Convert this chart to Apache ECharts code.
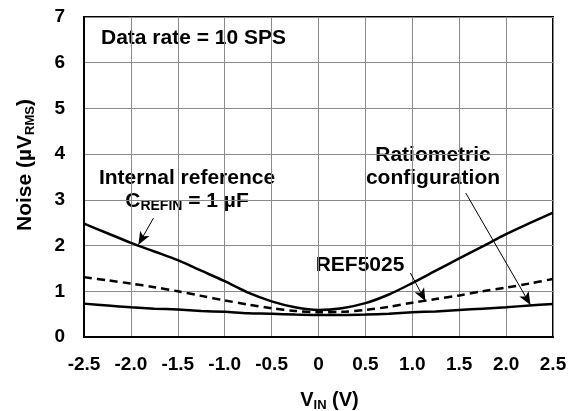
<!DOCTYPE html>
<html>
<head>
<meta charset="utf-8">
<script src="https://cdn.jsdelivr.net/npm/echarts@6/dist/echarts.min.js"></script>
<style>
html, body { margin: 0; padding: 0; background: #fff; }
#main { width: 570px; height: 411px; }
</style>
</head>
<body>
<div id="main"></div>
<script>
// 横轴 VIN (V)
var vin = [-2.5, -2.25, -2.0, -1.75, -1.5, -1.25, -1.0, -0.75, -0.5, -0.25, 0, 0.25, 0.5, 0.75, 1.0, 1.25, 1.5, 1.75, 2.0, 2.25, 2.5];
// 噪声 µVRMS
var internalRef = [2.48, 2.27, 2.06, 1.87, 1.68, 1.45, 1.22, 0.97, 0.78, 0.65, 0.59, 0.63, 0.74, 0.93, 1.18, 1.45, 1.72, 1.98, 2.25, 2.49, 2.72];
var ref5025 = [1.31, 1.24, 1.17, 1.09, 1.00, 0.90, 0.80, 0.71, 0.63, 0.57, 0.54, 0.55, 0.59, 0.66, 0.75, 0.83, 0.91, 1.00, 1.08, 1.17, 1.27];
var ratiometric = [0.73, 0.69, 0.65, 0.62, 0.60, 0.57, 0.55, 0.52, 0.51, 0.49, 0.48, 0.48, 0.49, 0.51, 0.54, 0.56, 0.59, 0.62, 0.65, 0.69, 0.72];

var xTicks = ['-2.5', '-2.0', '-1.5', '-1.0', '-0.5', '0', '0.5', '1.0', '1.5', '2.0', '2.5'];

// 箭头（数据坐标）
var arrowInternal = [[-1.76, 2.60], [-1.92, 2.02]];
var arrowRef = [[0.98, 1.40], [1.14, 0.78]];
var arrowRatio = [[1.57, 3.15], [2.26, 0.70]];

function pairs(a, b) {
  return a.map(function (v, i) { return [v, b[i]]; });
}

var FONT = '"Liberation Sans", Arial, Helvetica, sans-serif';

var myChart = echarts.init(document.getElementById('main'));

function arrow(seg) {
  return [{ coord: seg[0], symbol: 'none' }, { coord: seg[1], symbol: 'arrow' }];
}

var option = {
  animation: false,
  grid: {
    left: 84, right: 17, top: 17, bottom: 74,
    outerBoundsMode: 'none',
    show: true, borderColor: '#000', borderWidth: 2
  },
  xAxis: {
    type: 'value',
    min: -2.5, max: 2.5, interval: 0.5,
    axisLine: { onZero: false, lineStyle: { color: '#000', width: 2 } },
    axisTick: { show: false },
    splitLine: { lineStyle: { color: '#8a8a8a', width: 1 } },
    axisLabel: {
      margin: 18, color: '#000', fontSize: 19, fontWeight: 'bold', fontFamily: FONT,
      formatter: function (v) { return xTicks[Math.round((v + 2.5) / 0.5)]; }
    },
    name: '{b|V}{s|IN}{b| (V)}',
    nameLocation: 'middle',
    nameGap: 51,
    nameTextStyle: {
      padding: [0, 0, 0, 22],
      rich: {
        b: { fontSize: 20, fontWeight: 'bold', fontFamily: FONT, color: '#000', lineHeight: 24 },
        s: { fontSize: 13, fontWeight: 'bold', fontFamily: FONT, color: '#000', lineHeight: 10, verticalAlign: 'bottom' }
      }
    }
  },
  yAxis: {
    type: 'value',
    min: 0, max: 7, interval: 1,
    axisLine: { show: true, onZero: false, lineStyle: { color: '#000', width: 2 } },
    axisTick: { show: false },
    splitLine: { lineStyle: { color: '#8a8a8a', width: 1 } },
    axisLabel: { margin: 19, color: '#000', fontSize: 19, fontWeight: 'bold', fontFamily: FONT },
    name: '{b|Noise (µV}{s|RMS}{b|)}',
    nameLocation: 'middle',
    nameGap: 47,
    nameTextStyle: {
      padding: [0, 0, 0, 24],
      rich: {
        b: { fontSize: 21, fontWeight: 'bold', fontFamily: FONT, color: '#000', lineHeight: 24 },
        s: { fontSize: 13, fontWeight: 'bold', fontFamily: FONT, color: '#000', lineHeight: 10, verticalAlign: 'bottom' }
      }
    }
  },
  series: [
    {
      name: 'Internal reference',
      type: 'line',
      data: pairs(vin, internalRef),
      smooth: 0.3,
      showSymbol: false,
      lineStyle: { color: '#000', width: 2.5 },
      markLine: {
        silent: true,
        symbolSize: [8, 13],
        label: { show: false },
        lineStyle: { color: '#000', width: 1, type: 'solid' },
        data: [arrow(arrowInternal), arrow(arrowRef), arrow(arrowRatio)]
      }
    },
    {
      name: 'REF5025',
      type: 'line',
      data: pairs(vin, ref5025),
      smooth: 0.3,
      showSymbol: false,
      lineStyle: { color: '#000', width: 2.5, type: [8, 5] }
    },
    {
      name: 'Ratiometric configuration',
      type: 'line',
      data: pairs(vin, ratiometric),
      smooth: 0.3,
      showSymbol: false,
      lineStyle: { color: '#000', width: 2.5 }
    }
  ],
  graphic: [
    {
      type: 'text', left: 98, top: 27,
      style: { text: 'Data rate = 10 SPS', font: 'bold 21px ' + FONT, fill: '#000', backgroundColor: '#fff', padding: [1, 3] }
    },
    {
      type: 'text', x: 187, y: 178,
      style: { text: 'Internal reference', font: 'bold 21px ' + FONT, fill: '#000', align: 'center', verticalAlign: 'middle', backgroundColor: '#fff', padding: [1, 4] }
    },
    {
      type: 'text', x: 187, y: 201,
      style: {
        text: '{b|C}{s|REFIN}{b| = 1 µF}', align: 'center', verticalAlign: 'middle', backgroundColor: '#fff', padding: [0, 4],
        rich: {
          b: { font: 'bold 21px ' + FONT, fill: '#000', lineHeight: 24 },
          s: { font: 'bold 14px ' + FONT, fill: '#000', lineHeight: 10, verticalAlign: 'bottom' }
        }
      }
    },
    {
      type: 'text', x: 433, y: 155,
      style: { text: 'Ratiometric', font: 'bold 21px ' + FONT, fill: '#000', align: 'center', verticalAlign: 'middle', backgroundColor: '#fff', padding: [1, 6] }
    },
    {
      type: 'text', x: 433, y: 178,
      style: { text: 'configuration', font: 'bold 21px ' + FONT, fill: '#000', align: 'center', verticalAlign: 'middle', backgroundColor: '#fff', padding: [1, 4] }
    },
    {
      type: 'text', x: 360, y: 265,
      style: { text: 'REF5025', font: 'bold 21px ' + FONT, fill: '#000', align: 'center', verticalAlign: 'middle', backgroundColor: '#fff', padding: [1, 4] }
    }
  ]
};

myChart.setOption(option);
window.onresize = function () {
  myChart.resize();
};
</script>
</body>
</html>
